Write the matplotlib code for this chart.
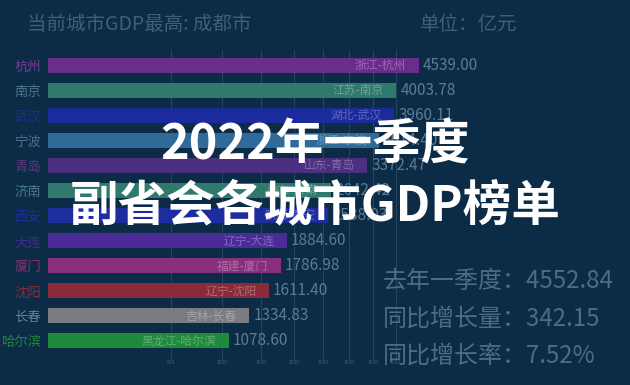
import numpy as np
import matplotlib.pyplot as plt
from matplotlib.colors import to_rgb

plt.rcParams['font.family'] = ['Noto Sans CJK SC', 'DejaVu Sans']

# 2022 Q1 GDP of sub-provincial cities (亿元)
cities = ["杭州", "南京", "武汉", "宁波", "青岛", "济南", "西安", "大连", "厦门", "沈阳", "长春", "哈尔滨"]
regions = ["浙江-杭州", "江苏-南京", "湖北-武汉", "浙江-宁波", "山东-青岛", "山东-济南", "陕西-西安",
           "辽宁-大连", "福建-厦门", "辽宁-沈阳", "吉林-长春", "黑龙江-哈尔滨"]
gdp = [4539.00, 4003.78, 3960.11, 3614.40, 3372.47, 2642.42, 2588.03, 1884.60, 1786.98, 1611.40, 1334.83, 1078.60]
ticks = [500, 1000, 1500, 2000, 2500, 3000, 3500, 4000]

bar_colors = ["#6b2d8c", "#2f7a6c", "#1b2a9c", "#2f6a98", "#4b2f80", "#2f7a6c", "#1d2d9e",
              "#4a2b98", "#882f7e", "#8a2b3a", "#7b7b82", "#1f8a3b"]
label_colors = ["#7a3a9a", "#4b7a86", "#1d2d9e", "#4a7090", "#5a3a82", "#4b7a86", "#1d2d9e",
                "#3d2d8e", "#8a2e6e", "#8a2b3a", "#6a8090", "#1f8a3b"]

bg = "#0c2b46"
fig = plt.figure(figsize=(6.3, 3.85), dpi=100, facecolor=bg)
ax = fig.add_axes([48 / 630, 29 / 385, (437 - 48) / 630, (335 - 29) / 385])
ax.set_facecolor(bg)

# bar-race axis uses a square-root scale
fwd = lambda v: np.sqrt(np.clip(v, 0, None))
inv = lambda v: np.square(v)
ax.set_xscale('function', functions=(fwd, inv))
ax.set_xlim(0, 5000)

y = np.arange(len(cities))
ax.barh(y, gdp, height=0.6, color=bar_colors, zorder=2)
ax.set_ylim(len(cities) - 0.4, -0.62)

for i, (v, r, c) in enumerate(zip(gdp, regions, bar_colors)):
    rgb = np.array(to_rgb(c))
    light = rgb + (1 - rgb) * 0.3
    ax.annotate(r, (v, i), xytext=(-9, 0), textcoords='offset points', ha='right', va='center',
                fontsize=8.5, color=light, zorder=3)
    ax.annotate(f"{v:.2f}", (v, i), xytext=(3, 0), textcoords='offset points', ha='left', va='center',
                fontsize=11, color="#5a7b96", zorder=3)

ax.set_yticks(y)
ax.set_yticklabels(cities, fontsize=9.6)
for lbl, c in zip(ax.get_yticklabels(), label_colors):
    lbl.set_color(c)
ax.tick_params(axis='y', length=0, pad=5)

ax.set_xticks(ticks)
ax.set_xticklabels([str(t) for t in ticks], fontsize=3.5, color="#3f5f7a")
ax.tick_params(axis='x', length=2, color="#2a4a66", pad=1)
ax.grid(axis='x', color="#24445f", lw=0.8, zorder=0)
for s in ax.spines.values():
    s.set_visible(False)

fig.text(27 / 630, 1 - 25 / 385, "当前城市GDP最高: 成都市", fontsize=14, color="#3e5e79", va='center')
fig.text(420 / 630, 1 - 25 / 385, "单位：亿元", fontsize=14, color="#3e5e79", va='center')

fig.text(0.5, 1 - 145 / 385, "2022年一季度", fontsize=35, color="white", weight='bold',
         ha='center', va='center')
fig.text(0.5, 1 - 206 / 385, "副省会各城市GDP榜单", fontsize=35, color="white", weight='bold',
         ha='center', va='center')

stats = ["去年一季度：4552.84", "同比增长量：342.15", "同比增长率：7.52%"]
for k, s in enumerate(stats):
    fig.text(383 / 630, 1 - (281 + 37.5 * k) / 385, s, fontsize=17.3, color="#4b6b86", va='center')

fig.savefig("out.png", dpi=100, facecolor=bg)
